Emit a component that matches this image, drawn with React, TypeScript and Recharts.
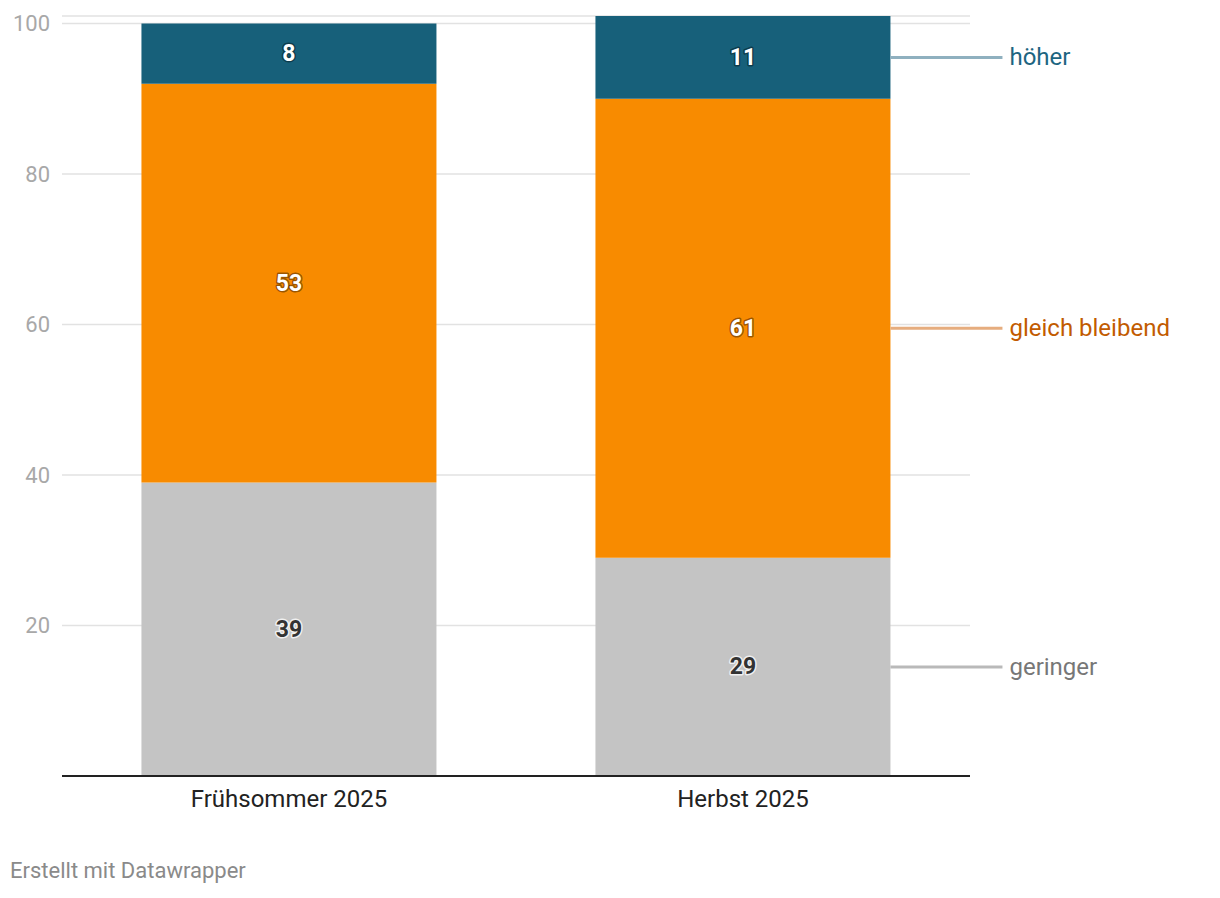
import React from 'react'
import { BarChart, Bar, XAxis, YAxis, CartesianGrid, LabelList } from 'recharts'

// ─── Data ──────────────────────────────────────────────────────────────────
const periods = ['Frühsommer 2025', 'Herbst 2025']
const geringer = [39, 29]
const gleichBleibend = [53, 61]
const hoeher = [8, 11]
const yTicks = [20, 40, 60, 80, 100]

const data = periods.map((period, i) => ({
  period,
  geringer: geringer[i],
  gleich: gleichBleibend[i],
  hoeher: hoeher[i],
}))

const FONT = 'Roboto, "Noto Sans", sans-serif'

const SERIES = [
  { key: 'geringer', name: 'geringer', fill: '#c4c4c4', text: '#777777', line: '#b9b9b9', dark: true },
  { key: 'gleich', name: 'gleich bleibend', fill: '#f88b00', text: '#c25b00', line: '#e6ad7e', dark: false },
  { key: 'hoeher', name: 'höher', fill: '#17607a', text: '#1d6581', line: '#8fb0bf', dark: false },
]

// value inside the segment, with halo
const ValueLabel = (dark: boolean) => (props: any) => {
  const { x, y, width, height, value } = props
  return (
    <text
      x={x + width / 2}
      y={y + height / 2}
      textAnchor="middle"
      dominantBaseline="central"
      fontFamily={FONT}
      fontSize={23}
      fontWeight={700}
      fill={dark ? '#333333' : '#ffffff'}
      stroke={dark ? 'rgba(255,255,255,0.75)' : 'rgba(0,0,0,0.4)'}
      strokeWidth={3}
      strokeLinejoin="round"
      style={{ paintOrder: 'stroke' }}
    >
      {value}
    </text>
  )
}

// direct label on the right of the last bar
const SeriesLabel = (name: string, lineColor: string, textColor: string) => (props: any) => {
  const { x, y, width, height, index } = props
  if (index !== periods.length - 1) return null
  const cy = y + height / 2
  const x0 = x + width
  return (
    <g>
      <line x1={x0} y1={cy} x2={x0 + 112} y2={cy} stroke={lineColor} strokeWidth={3} />
      <text
        x={x0 + 119}
        y={cy}
        dominantBaseline="central"
        fontFamily={FONT}
        fontSize={24}
        fill={textColor}
      >
        {name}
      </text>
    </g>
  )
}

export default function App() {
  return (
    <div style={{ position: 'relative', width: 1220, height: 898, margin: -8, background: '#fff', fontFamily: FONT }}>
      <BarChart
        width={1220}
        height={898}
        data={data}
        margin={{ top: 16, right: 250, bottom: 82, left: 0 }}
        barCategoryGap="17.5%"
      >
        <CartesianGrid horizontal vertical={false} stroke="#e2e2e2" strokeWidth={1.5} />
        <YAxis
          width={62}
          domain={[0, 101]}
          ticks={yTicks}
          axisLine={false}
          tickLine={false}
          tickSize={0}
          tickMargin={12}
          tick={{ fill: '#a8a8a8', fontSize: 22, fontFamily: FONT }}
        />
        <XAxis
          dataKey="period"
          height={40}
          axisLine={{ stroke: '#222', strokeWidth: 2 }}
          tickLine={false}
          tickSize={0}
          tickMargin={14}
          tick={{ fill: '#222', fontSize: 24, fontFamily: FONT }}
        />
        {SERIES.map((s) => (
          <Bar key={s.key} dataKey={s.key} name={s.name} stackId="a" fill={s.fill} isAnimationActive={false}>
            <LabelList dataKey={s.key} content={ValueLabel(s.dark)} />
            <LabelList dataKey={s.key} content={SeriesLabel(s.name, s.line, s.text)} />
          </Bar>
        ))}
      </BarChart>
      <div style={{ position: 'absolute', left: 10, top: 858, fontSize: 22, color: '#8a8a8a', fontFamily: FONT }}>
        Erstellt mit Datawrapper
      </div>
    </div>
  )
}
